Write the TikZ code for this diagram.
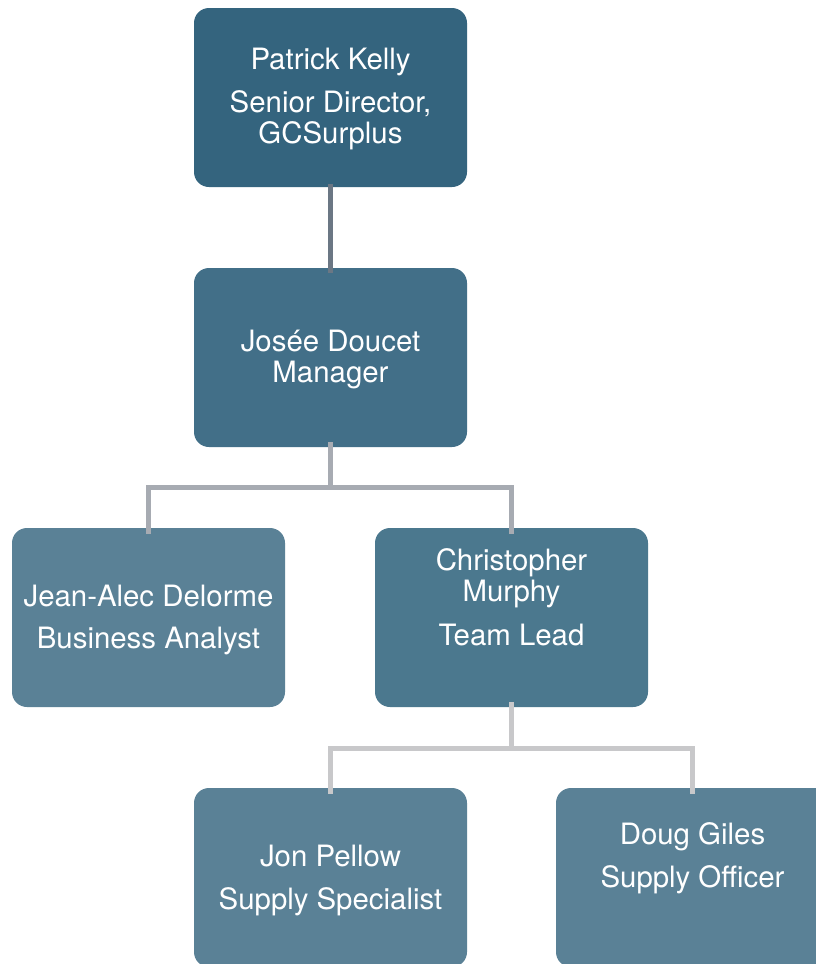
\documentclass[tikz,border=0pt]{standalone}
\usepackage{fontspec}
\setmainfont{TeX Gyre Heros}
\definecolor{cTop}{HTML}{34647E}
\definecolor{cMgr}{HTML}{426F88}
\definecolor{cLead}{HTML}{4B788E}
\definecolor{cStaff}{HTML}{5A8196}
\definecolor{lnA}{HTML}{6B7784}
\definecolor{lnB}{HTML}{A7ABB2}
\definecolor{lnC}{HTML}{C8C8CA}
\tikzset{
  box/.style={rectangle, rounded corners=15pt, minimum width=273pt, minimum height=179pt, inner sep=0pt, draw=none},
  txt/.style={text=white, align=center, font=\fontsize{29.4}{31}\selectfont, inner sep=0pt},
  conn/.style={line width=5pt},
}
\begin{document}
\begin{tikzpicture}[x=1pt,y=-1pt]
\useasboundingbox (0,0) rectangle (815,964);
\fill[white] (0,0) rectangle (815,964);
% boxes
\node[box, fill=cTop]   (pk) at (330.5,97.5) {};
\node[box, fill=cMgr]   (jd) at (330.5,357.5) {};
\node[box, fill=cStaff] (ja) at (148.5,617.5) {};
\node[box, fill=cLead]  (cm) at (511.5,617.5) {};
\node[box, fill=cStaff] (jp) at (330.5,877.5) {};
\node[box, fill=cStaff] (dg) at (692.5,877.5) {};
% texts
\node[txt] (pkt) at (330.5,99) {Patrick Kelly\\[12pt]Senior Director,\\GCSurplus};
\node[txt] (jdt) at (330.5,359) {Josée Doucet\\Manager};
\node[txt] (jat) at (148.5,619.5) {Jean-Alec Delorme\\[11pt]Business Analyst};
\node[txt] (cmt) at (511.5,597) {Christopher\\Murphy\\[13pt]Team Lead};
\node[txt] (jpt) at (330.5,880) {Jon Pellow\\[12pt]Supply Specialist};
\node[txt] (dgt) at (692.5,858) {Doug Giles\\[12pt]Supply Officer};
% connectors
\draw[conn, lnA] ([yshift=3pt]pk.south) -- ([yshift=-5pt]jd.north);
\coordinate (jdbar) at (330.5,487);
\draw[conn, lnB] ([yshift=5pt]jd.south) -- (jdbar);
\draw[conn, lnB] ([yshift=-6pt]ja.north) |- (jdbar) -| ([yshift=-6pt]cm.north);
\coordinate (cmbar) at (511.5,748);
\draw[conn, lnC] ([yshift=5pt]cm.south) -- (cmbar);
\draw[conn, lnC] ([yshift=-6pt]jp.north) |- (cmbar) -| ([yshift=-6pt]dg.north);
\end{tikzpicture}
\end{document}
